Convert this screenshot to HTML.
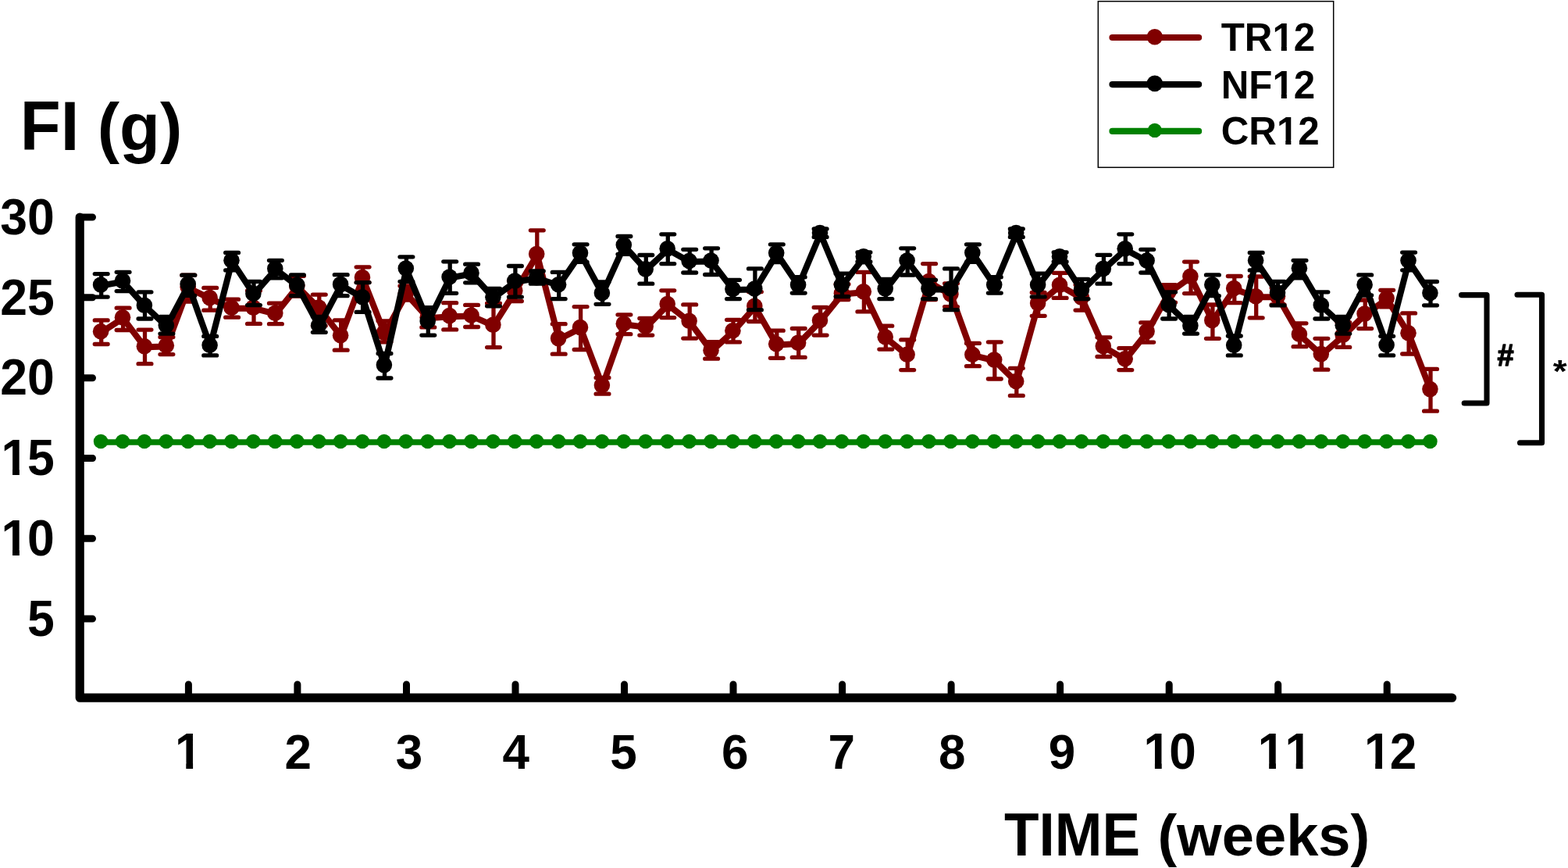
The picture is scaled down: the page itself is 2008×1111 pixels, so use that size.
<!DOCTYPE html>
<html lang="en"><head><meta charset="utf-8"><title>FI (g) over TIME (weeks)</title>
<style>html,body{margin:0;padding:0;background:#fff;}body{width:2008px;height:1111px;overflow:hidden;}svg{display:block;}text{font-family:"Liberation Sans", sans-serif;font-weight:bold;fill:#000;font-kerning:none;}</style></head><body>
<svg width="2008" height="1111" viewBox="0 0 2008 1111">
<defs><clipPath id="c1"><path d="M1553.84,-59.16H1694.11V-6.23H1553.84ZM1563.65,-6.73H1593.88V14.79H1563.65ZM1596.51,-6.73H1629.01V14.79H1596.51ZM1640.77,-6.73H1647.84V14.79H1640.77ZM1657.94,-6.73H1682.88V14.79H1657.94Z"/></clipPath><clipPath id="c2"><path d="M1553.84,-59.16H1694.11V-6.23H1553.84ZM1566.40,-6.73H1596.58V14.79H1566.40ZM1602.00,-6.73H1628.21V14.79H1602.00ZM1640.77,-6.73H1647.84V14.79H1640.77ZM1657.94,-6.73H1682.88V14.79H1657.94Z"/></clipPath><clipPath id="c3"><path d="M1553.84,-59.16H1699.60V-6.23H1553.84ZM1565.12,-6.73H1598.55V14.79H1565.12ZM1602.00,-6.73H1634.49V14.79H1602.00ZM1646.26,-6.73H1653.33V14.79H1646.26ZM1663.43,-6.73H1688.37V14.79H1663.43Z"/></clipPath><clipPath id="c4"><path d="M-10.92,-75.00H82.30V-7.58H-10.92ZM16.02,-8.08H24.89V18.75H16.02ZM36.36,-8.08H68.66V18.75H36.36Z"/></clipPath><clipPath id="c5"><path d="M-10.92,-75.00H82.30V-7.58H-10.92ZM16.02,-8.08H24.89V18.75H16.02ZM36.91,-8.08H67.84V18.75H36.91Z"/></clipPath><clipPath id="c6"><path d="M211.58,-74.40H270.86V-7.53H211.58ZM238.30,-8.03H247.10V18.60H238.30Z"/></clipPath><clipPath id="c7"><path d="M1452.18,-74.40H1544.19V-7.53H1452.18ZM1478.90,-8.03H1487.70V18.60H1478.90ZM1499.16,-8.03H1529.84V18.60H1499.16Z"/></clipPath><clipPath id="c8"><path d="M1598.43,-74.40H1692.26V-7.53H1598.43ZM1625.15,-8.03H1633.95V18.60H1625.15ZM1659.70,-8.03H1668.50V18.60H1659.70Z"/></clipPath><clipPath id="c9"><path d="M1734.48,-74.40H1826.76V-7.53H1734.48ZM1761.20,-8.03H1770.00V18.60H1761.20ZM1781.43,-8.03H1812.47V18.60H1781.43Z"/></clipPath></defs>
<rect width="2008" height="1111" fill="#fff"/>
<g id="ytitle"><text transform="translate(0,192.00) scale(1,1.045)" font-size="85" x="25.80 77.72" y="0">FI</text><text transform="translate(0,192.00) scale(1,1.0)" font-size="85" x="124.80 153.11 205.03" y="0">(g)</text></g>
<g id="legend">
<rect x="1406.3" y="1.7" width="301.4" height="212.6" fill="#fff" stroke="#000" stroke-width="1.5"/>
<line x1="1424.5" y1="48.0" x2="1535.1" y2="48.0" stroke="#800000" stroke-width="8.2" stroke-linecap="round"/>
<circle cx="1478.8" cy="47.2" r="10.3" fill="#800000"/>
<text transform="translate(0,65.20) scale(1,1.0)" font-size="49.3" x="1563.70 1593.81 1629.42 1656.84" y="0" clip-path="url(#c1)">TR12</text>
<line x1="1424.5" y1="108.1" x2="1535.1" y2="108.1" stroke="#000000" stroke-width="8.2" stroke-linecap="round"/>
<circle cx="1478.8" cy="106.9" r="10.3" fill="#000000"/>
<text transform="translate(0,125.70) scale(1,1.0)" font-size="49.3" x="1563.70 1599.30 1629.42 1656.84" y="0" clip-path="url(#c2)">NF12</text>
<line x1="1424.5" y1="167.95" x2="1535.1" y2="167.95" stroke="#008000" stroke-width="8.2" stroke-linecap="round"/>
<circle cx="1478.8" cy="166.9" r="9.2" fill="#008000"/>
<text transform="translate(0,185.30) scale(1,1.0)" font-size="49.3" x="1563.70 1599.30 1634.91 1662.32" y="0" clip-path="url(#c3)">CR12</text>
</g>
<g id="tr12"><g stroke="#800000" fill="none" stroke-linecap="round" stroke-linejoin="round">
<path d="M129.7,425.4 L157.6,407.3 L185.5,444.3 L213.4,443.4 L241.3,368.6 L269.2,382.2 L297.1,394.8 L325.0,394.7 L352.9,401.9 L380.9,367.0 L408.8,394.7 L436.7,430.3 L464.6,356.1 L492.5,426.9 L520.4,376.3 L548.3,407.3 L576.2,405.2 L604.1,404.6 L632.0,416.9 L659.9,373.1 L687.8,326.1 L715.7,434.2 L743.6,420.1 L771.5,494.2 L799.4,415.3 L827.3,418.9 L855.3,390.1 L883.2,411.8 L911.1,449.5 L939.0,424.3 L966.9,392.9 L994.8,441.4 L1022.7,439.9 L1050.6,411.1 L1078.5,376.6 L1106.4,374.3 L1134.3,432.4 L1162.2,454.9 L1190.1,361.2 L1218.0,377.6 L1245.9,454.9 L1273.8,461.6 L1301.8,489.1 L1329.7,389.1 L1357.6,365.8 L1385.5,381.9 L1413.4,444.1 L1441.3,460.3 L1469.2,425.2 L1497.1,374.7 L1525.0,354.8 L1552.9,411.0 L1580.8,370.1 L1608.7,380.3 L1636.6,380.3 L1664.5,428.9 L1692.4,454.2 L1720.3,429.9 L1748.2,402.7 L1776.2,382.8 L1804.1,427.4 L1832.0,499.2" stroke-width="8.0"/>
<path d="M129.7,409.9V440.5M121.3,409.9h16.8M121.3,440.5h16.8M157.6,394.2V422.5M149.2,394.2h16.8M149.2,422.5h16.8M185.5,422.1V465.7M177.1,422.1h16.8M177.1,465.7h16.8M213.4,431.5V453.6M205.0,431.5h16.8M205.0,453.6h16.8M241.3,352.2V386M232.9,352.2h16.8M232.9,386h16.8M269.2,368.4V397.2M260.8,368.4h16.8M260.8,397.2h16.8M297.1,383.2V406.2M288.7,383.2h16.8M288.7,406.2h16.8M325.0,372.0V414.4M316.6,372.0h16.8M316.6,414.4h16.8M352.9,388.2V414.7M344.5,388.2h16.8M344.5,414.7h16.8M380.9,353.3V379.2M372.5,353.3h16.8M372.5,379.2h16.8M408.8,377.1V417.1M400.4,377.1h16.8M400.4,417.1h16.8M436.7,409.9V448.2M428.3,409.9h16.8M428.3,448.2h16.8M464.6,341.8V361.6M456.2,341.8h16.8M456.2,361.6h16.8M492.5,410.8V437.8M484.1,410.8h16.8M484.1,437.8h16.8M520.4,366V384M512.0,366h16.8M512.0,384h16.8M548.3,393.6V418.9M539.9,393.6h16.8M539.9,418.9h16.8M576.2,387.7V421.9M567.8,387.7h16.8M567.8,421.9h16.8M604.1,390.4V418.5M595.7,390.4h16.8M595.7,418.5h16.8M632.0,388.2V444.6M623.6,388.2h16.8M623.6,444.6h16.8M659.9,359.4V385.5M651.5,359.4h16.8M651.5,385.5h16.8M687.8,294.8V355.6M679.4,294.8h16.8M679.4,355.6h16.8M715.7,414.7V453.2M707.3,414.7h16.8M707.3,453.2h16.8M743.6,392.6V447.5M735.2,392.6h16.8M735.2,447.5h16.8M771.5,483.5V504.2M763.1,483.5h16.8M763.1,504.2h16.8M799.4,402.8V427.7M791.0,402.8h16.8M791.0,427.7h16.8M827.3,407.5V429.1M818.9,407.5h16.8M818.9,429.1h16.8M855.3,371.8V406.6M846.9,371.8h16.8M846.9,406.6h16.8M883.2,389.9V433.1M874.8,389.9h16.8M874.8,433.1h16.8M911.1,437.6V459.2M902.7,437.6h16.8M902.7,459.2h16.8M939.0,409.3V437.9M930.6,409.3h16.8M930.6,437.9h16.8M966.9,373.6V411.5M958.5,373.6h16.8M958.5,411.5h16.8M994.8,423.2V458.3M986.4,423.2h16.8M986.4,458.3h16.8M1022.7,420.5V457.4M1014.3,420.5h16.8M1014.3,457.4h16.8M1050.6,393.5V429.1M1042.2,393.5h16.8M1042.2,429.1h16.8M1078.5,363.7V383.5M1070.1,363.7h16.8M1070.1,383.5h16.8M1106.4,348.4V398.9M1098.0,348.4h16.8M1098.0,398.9h16.8M1134.3,417.2V447.1M1125.9,417.2h16.8M1125.9,447.1h16.8M1162.2,434.9V473.6M1153.8,434.9h16.8M1153.8,473.6h16.8M1190.1,337.6V383.5M1181.7,337.6h16.8M1181.7,383.5h16.8M1218.0,362.8V392.6M1209.6,362.8h16.8M1209.6,392.6h16.8M1245.9,439.4V468.7M1237.5,439.4h16.8M1237.5,468.7h16.8M1273.8,437.8V485M1265.4,437.8h16.8M1265.4,485h16.8M1301.8,471.3V506.4M1293.4,471.3h16.8M1293.4,506.4h16.8M1329.7,374.5V404.3M1321.3,374.5h16.8M1321.3,404.3h16.8M1357.6,349.3V381.4M1349.2,349.3h16.8M1349.2,381.4h16.8M1385.5,364.6V397.1M1377.1,364.6h16.8M1377.1,397.1h16.8M1413.4,431.8V456.5M1405.0,431.8h16.8M1405.0,456.5h16.8M1441.3,445.7V473.6M1432.9,445.7h16.8M1432.9,473.6h16.8M1469.2,412.9V438.1M1460.8,412.9h16.8M1460.8,438.1h16.8M1497.1,364.6V387.1M1488.7,364.6h16.8M1488.7,387.1h16.8M1525.0,335.1V375.6M1516.6,335.1h16.8M1516.6,375.6h16.8M1552.9,390.0V433.3M1544.5,390.0h16.8M1544.5,433.3h16.8M1580.8,353.5V387.7M1572.4,353.5h16.8M1572.4,387.7h16.8M1608.7,354.0V406.8M1600.3,354.0h16.8M1600.3,406.8h16.8M1636.6,368.4V390.0M1628.2,368.4h16.8M1628.2,390.0h16.8M1664.5,413.8V443.7M1656.1,413.8h16.8M1656.1,443.7h16.8M1692.4,433.3V473.2M1684.0,433.3h16.8M1684.0,473.2h16.8M1720.3,412.6V444.4M1711.9,412.6h16.8M1711.9,444.4h16.8M1748.2,384V420.6M1739.8,384h16.8M1739.8,420.6h16.8M1776.2,371.3V392.9M1767.8,371.3h16.8M1767.8,392.9h16.8M1804.1,400.9V453M1795.7,400.9h16.8M1795.7,453h16.8M1832.0,472.4V526.2M1823.6,472.4h16.8M1823.6,526.2h16.8" stroke-width="5.3"/>
</g>
<g fill="#800000"><circle cx="129.1" cy="424.3" r="10.3"/><circle cx="157.0" cy="406.2" r="10.3"/><circle cx="184.9" cy="443.2" r="10.3"/><circle cx="212.8" cy="442.3" r="10.3"/><circle cx="240.7" cy="367.5" r="10.3"/><circle cx="268.6" cy="381.1" r="10.3"/><circle cx="296.5" cy="393.7" r="10.3"/><circle cx="324.4" cy="393.6" r="10.3"/><circle cx="352.3" cy="400.8" r="10.3"/><circle cx="380.3" cy="365.9" r="10.3"/><circle cx="408.2" cy="393.6" r="10.3"/><circle cx="436.1" cy="429.2" r="10.3"/><circle cx="464.0" cy="355.0" r="10.3"/><circle cx="491.9" cy="425.8" r="10.3"/><circle cx="519.8" cy="375.2" r="10.3"/><circle cx="547.7" cy="406.2" r="10.3"/><circle cx="575.6" cy="404.1" r="10.3"/><circle cx="603.5" cy="403.5" r="10.3"/><circle cx="631.4" cy="415.8" r="10.3"/><circle cx="659.3" cy="372.0" r="10.3"/><circle cx="687.2" cy="325.0" r="10.3"/><circle cx="715.1" cy="433.1" r="10.3"/><circle cx="743.0" cy="419.0" r="10.3"/><circle cx="770.9" cy="493.1" r="10.3"/><circle cx="798.8" cy="414.2" r="10.3"/><circle cx="826.7" cy="417.8" r="10.3"/><circle cx="854.7" cy="389.0" r="10.3"/><circle cx="882.6" cy="410.7" r="10.3"/><circle cx="910.5" cy="448.4" r="10.3"/><circle cx="938.4" cy="423.2" r="10.3"/><circle cx="966.3" cy="391.8" r="10.3"/><circle cx="994.2" cy="440.3" r="10.3"/><circle cx="1022.1" cy="438.8" r="10.3"/><circle cx="1050.0" cy="410.0" r="10.3"/><circle cx="1077.9" cy="375.5" r="10.3"/><circle cx="1105.8" cy="373.2" r="10.3"/><circle cx="1133.7" cy="431.3" r="10.3"/><circle cx="1161.6" cy="453.8" r="10.3"/><circle cx="1189.5" cy="360.1" r="10.3"/><circle cx="1217.4" cy="376.5" r="10.3"/><circle cx="1245.3" cy="453.8" r="10.3"/><circle cx="1273.2" cy="460.5" r="10.3"/><circle cx="1301.2" cy="488" r="10.3"/><circle cx="1329.1" cy="388.0" r="10.3"/><circle cx="1357.0" cy="364.7" r="10.3"/><circle cx="1384.9" cy="380.8" r="10.3"/><circle cx="1412.8" cy="443.0" r="10.3"/><circle cx="1440.7" cy="459.2" r="10.3"/><circle cx="1468.6" cy="424.1" r="10.3"/><circle cx="1496.5" cy="373.6" r="10.3"/><circle cx="1524.4" cy="353.7" r="10.3"/><circle cx="1552.3" cy="409.9" r="10.3"/><circle cx="1580.2" cy="369.0" r="10.3"/><circle cx="1608.1" cy="379.2" r="10.3"/><circle cx="1636.0" cy="379.2" r="10.3"/><circle cx="1663.9" cy="427.8" r="10.3"/><circle cx="1691.8" cy="453.1" r="10.3"/><circle cx="1719.7" cy="428.8" r="10.3"/><circle cx="1747.6" cy="401.6" r="10.3"/><circle cx="1775.6" cy="381.7" r="10.3"/><circle cx="1803.5" cy="426.3" r="10.3"/><circle cx="1831.4" cy="498.1" r="10.3"/></g></g>
<g id="nf12"><g stroke="#000000" fill="none" stroke-linecap="round" stroke-linejoin="round">
<path d="M129.7,365.6 L157.6,360.5 L185.5,391.8 L213.4,417.6 L241.3,365.2 L269.2,442.8 L297.1,334.4 L325.0,376.8 L352.9,344.8 L380.9,366.0 L408.8,417.7 L436.7,365.0 L464.6,381.3 L492.5,468.2 L520.4,344.6 L548.3,412.0 L576.2,355.6 L604.1,350.5 L632.0,381.3 L659.9,360.7 L687.8,356.2 L715.7,365.3 L743.6,324.8 L771.5,376.1 L799.4,314.6 L827.3,345.5 L855.3,319.4 L883.2,335.1 L911.1,334.6 L939.0,371.1 L966.9,370.6 L994.8,324.8 L1022.7,365.7 L1050.6,299.1 L1078.5,365.7 L1106.4,329.4 L1134.3,370.6 L1162.2,334.6 L1190.1,370.6 L1218.0,370.6 L1245.9,324.7 L1273.8,365.7 L1301.8,299.1 L1329.7,365.7 L1357.6,329.4 L1385.5,372.1 L1413.4,345.0 L1441.3,319.4 L1469.2,334.6 L1497.1,391.1 L1525.0,417.9 L1552.9,365.5 L1580.8,442.8 L1608.7,334.4 L1636.6,375.8 L1664.5,344.3 L1692.4,391.6 L1720.3,417.4 L1748.2,365.5 L1776.2,442.6 L1804.1,334.6 L1832.0,376.1" stroke-width="8.0"/>
<path d="M129.7,350.6V380.1M121.3,350.6h16.8M121.3,380.1h16.8M157.6,348.3V372.6M149.2,348.3h16.8M149.2,372.6h16.8M185.5,373.8V408.0M177.1,373.8h16.8M177.1,408.0h16.8M213.4,405.3V427.1M205.0,405.3h16.8M205.0,427.1h16.8M241.3,352.2V378.4M232.9,352.2h16.8M232.9,378.4h16.8M269.2,430.4V454.9M260.8,430.4h16.8M260.8,454.9h16.8M297.1,323.4V345.9M288.7,323.4h16.8M288.7,345.9h16.8M325.0,360.3V390.6M316.6,360.3h16.8M316.6,390.6h16.8M352.9,333.3V355.8M344.5,333.3h16.8M344.5,355.8h16.8M380.9,351.9V378.7M372.5,351.9h16.8M372.5,378.7h16.8M408.8,405.3V425.3M400.4,405.3h16.8M400.4,425.3h16.8M436.7,351.7V378.7M428.3,351.7h16.8M428.3,378.7h16.8M464.6,361.6V399.4M456.2,361.6h16.8M456.2,399.4h16.8M492.5,452.5V484.0M484.1,452.5h16.8M484.1,484.0h16.8M520.4,328.8V360.3M512.0,328.8h16.8M512.0,360.3h16.8M548.3,393.6V429.1M539.9,393.6h16.8M539.9,429.1h16.8M576.2,334.8V375.3M567.8,334.8h16.8M567.8,375.3h16.8M604.1,338.2V361.8M595.7,338.2h16.8M595.7,361.8h16.8M632.0,369.3V391.8M623.6,369.3h16.8M623.6,391.8h16.8M659.9,340.5V380.1M651.5,340.5h16.8M651.5,380.1h16.8M687.8,347.0V363.2M679.4,347.0h16.8M679.4,363.2h16.8M715.7,348.4V382.6M707.3,348.4h16.8M707.3,382.6h16.8M743.6,312.8V335.4M735.2,312.8h16.8M735.2,335.4h16.8M771.5,361.0V389.3M763.1,361.0h16.8M763.1,389.3h16.8M799.4,302.5V325.3M791.0,302.5h16.8M791.0,325.3h16.8M827.3,326.5V363.2M818.9,326.5h16.8M818.9,363.2h16.8M855.3,299.8V337.6M846.9,299.8h16.8M846.9,337.6h16.8M883.2,319.3V349.0M874.8,319.3h16.8M874.8,349.0h16.8M911.1,317.8V351.5M902.7,317.8h16.8M902.7,351.5h16.8M939.0,358.3V382.6M930.6,358.3h16.8M930.6,382.6h16.8M966.9,343.9V396.7M958.5,343.9h16.8M958.5,396.7h16.8M994.8,312.8V335.5M986.4,312.8h16.8M986.4,335.5h16.8M1022.7,354.7V375.1M1014.3,354.7h16.8M1014.3,375.1h16.8M1050.6,293.0V303.4M1042.2,293.0h16.8M1042.2,303.4h16.8M1078.5,350.2V379.6M1070.1,350.2h16.8M1070.1,379.6h16.8M1106.4,322.9V334.9M1098.0,322.9h16.8M1098.0,334.9h16.8M1134.3,357.4V382.6M1125.9,357.4h16.8M1125.9,382.6h16.8M1162.2,317.8V352.0M1153.8,317.8h16.8M1153.8,352.0h16.8M1190.1,358.3V382.6M1181.7,358.3h16.8M1181.7,382.6h16.8M1218.0,343.9V396.7M1209.6,343.9h16.8M1209.6,396.7h16.8M1245.9,312.8V335.4M1237.5,312.8h16.8M1237.5,335.4h16.8M1273.8,354.7V375.1M1265.4,354.7h16.8M1265.4,375.1h16.8M1301.8,293.0V303.4M1293.4,293.0h16.8M1293.4,303.4h16.8M1329.7,350.2V379.9M1321.3,350.2h16.8M1321.3,379.9h16.8M1357.6,322.9V334.9M1349.2,322.9h16.8M1349.2,334.9h16.8M1385.5,357.4V382.6M1377.1,357.4h16.8M1377.1,382.6h16.8M1413.4,326.3V363.2M1405.0,326.3h16.8M1405.0,363.2h16.8M1441.3,299.8V337.6M1432.9,299.8h16.8M1432.9,337.6h16.8M1469.2,319.3V349.0M1460.8,319.3h16.8M1460.8,349.0h16.8M1497.1,373.8V408.0M1488.7,373.8h16.8M1488.7,408.0h16.8M1525.0,405.3V427.1M1516.6,405.3h16.8M1516.6,427.1h16.8M1552.9,351.9V378.7M1544.5,351.9h16.8M1544.5,378.7h16.8M1580.8,430.0V454.9M1572.4,430.0h16.8M1572.4,454.9h16.8M1608.7,323.4V345.9M1600.3,323.4h16.8M1600.3,345.9h16.8M1636.6,360.3V390.9M1628.2,360.3h16.8M1628.2,390.9h16.8M1664.5,333.3V355.8M1656.1,333.3h16.8M1656.1,355.8h16.8M1692.4,373.8V408.0M1684.0,373.8h16.8M1684.0,408.0h16.8M1720.3,405.3V427.1M1711.9,405.3h16.8M1711.9,427.1h16.8M1748.2,351.9V378M1739.8,351.9h16.8M1739.8,378h16.8M1776.2,430.3V454.9M1767.8,430.3h16.8M1767.8,454.9h16.8M1804.1,323.1V345.8M1795.7,323.1h16.8M1795.7,345.8h16.8M1832.0,360.5V390.8M1823.6,360.5h16.8M1823.6,390.8h16.8" stroke-width="5.3"/>
</g>
<g fill="#000000"><circle cx="129.1" cy="364.5" r="10.3"/><circle cx="157.0" cy="359.4" r="10.3"/><circle cx="184.9" cy="390.7" r="10.3"/><circle cx="212.8" cy="416.5" r="10.3"/><circle cx="240.7" cy="363.6" r="10.3"/><circle cx="268.6" cy="441.7" r="10.3"/><circle cx="296.5" cy="333.3" r="10.3"/><circle cx="324.4" cy="375.7" r="10.3"/><circle cx="352.3" cy="343.7" r="10.3"/><circle cx="380.3" cy="364.9" r="10.3"/><circle cx="408.2" cy="416.6" r="10.3"/><circle cx="436.1" cy="363.9" r="10.3"/><circle cx="464.0" cy="380.2" r="10.3"/><circle cx="491.9" cy="467.1" r="10.3"/><circle cx="519.8" cy="343.5" r="10.3"/><circle cx="547.7" cy="410.9" r="10.3"/><circle cx="575.6" cy="354.5" r="10.3"/><circle cx="603.5" cy="349.4" r="10.3"/><circle cx="631.4" cy="380.2" r="10.3"/><circle cx="659.3" cy="359.6" r="10.3"/><circle cx="687.2" cy="355.1" r="10.3"/><circle cx="715.1" cy="364.2" r="10.3"/><circle cx="743.0" cy="323.7" r="10.3"/><circle cx="770.9" cy="375.0" r="10.3"/><circle cx="798.8" cy="313.5" r="10.3"/><circle cx="826.7" cy="344.4" r="10.3"/><circle cx="854.7" cy="318.3" r="10.3"/><circle cx="882.6" cy="334.0" r="10.3"/><circle cx="910.5" cy="333.5" r="10.3"/><circle cx="938.4" cy="370.0" r="10.3"/><circle cx="966.3" cy="369.5" r="10.3"/><circle cx="994.2" cy="323.7" r="10.3"/><circle cx="1022.1" cy="364.6" r="10.3"/><circle cx="1050.0" cy="298.0" r="10.3"/><circle cx="1077.9" cy="364.6" r="10.3"/><circle cx="1105.8" cy="328.3" r="10.3"/><circle cx="1133.7" cy="369.5" r="10.3"/><circle cx="1161.6" cy="333.5" r="10.3"/><circle cx="1189.5" cy="369.5" r="10.3"/><circle cx="1217.4" cy="369.5" r="10.3"/><circle cx="1245.3" cy="323.6" r="10.3"/><circle cx="1273.2" cy="364.6" r="10.3"/><circle cx="1301.2" cy="298.0" r="10.3"/><circle cx="1329.1" cy="364.6" r="10.3"/><circle cx="1357.0" cy="328.3" r="10.3"/><circle cx="1384.9" cy="371.0" r="10.3"/><circle cx="1412.8" cy="343.9" r="10.3"/><circle cx="1440.7" cy="318.3" r="10.3"/><circle cx="1468.6" cy="333.5" r="10.3"/><circle cx="1496.5" cy="390.0" r="10.3"/><circle cx="1524.4" cy="416.8" r="10.3"/><circle cx="1552.3" cy="364.4" r="10.3"/><circle cx="1580.2" cy="441.7" r="10.3"/><circle cx="1608.1" cy="333.3" r="10.3"/><circle cx="1636.0" cy="374.7" r="10.3"/><circle cx="1663.9" cy="343.2" r="10.3"/><circle cx="1691.8" cy="390.5" r="10.3"/><circle cx="1719.7" cy="416.3" r="10.3"/><circle cx="1747.6" cy="364.4" r="10.3"/><circle cx="1775.6" cy="441.5" r="10.3"/><circle cx="1803.5" cy="333.5" r="10.3"/><circle cx="1831.4" cy="375" r="10.3"/></g></g>
<g id="cr12"><g stroke="#008000" fill="none" stroke-linecap="round" stroke-linejoin="round">
<path d="M129.7,566.1 L157.6,566.1 L185.5,566.1 L213.4,566.1 L241.3,566.1 L269.2,566.1 L297.1,566.1 L325.0,566.1 L352.9,566.1 L380.9,566.1 L408.8,566.1 L436.7,566.1 L464.6,566.1 L492.5,566.1 L520.4,566.1 L548.3,566.1 L576.2,566.1 L604.1,566.1 L632.0,566.1 L659.9,566.1 L687.8,566.1 L715.7,566.1 L743.6,566.1 L771.5,566.1 L799.4,566.1 L827.3,566.1 L855.3,566.1 L883.2,566.1 L911.1,566.1 L939.0,566.1 L966.9,566.1 L994.8,566.1 L1022.7,566.1 L1050.6,566.1 L1078.5,566.1 L1106.4,566.1 L1134.3,566.1 L1162.2,566.1 L1190.1,566.1 L1218.0,566.1 L1245.9,566.1 L1273.8,566.1 L1301.8,566.1 L1329.7,566.1 L1357.6,566.1 L1385.5,566.1 L1413.4,566.1 L1441.3,566.1 L1469.2,566.1 L1497.1,566.1 L1525.0,566.1 L1552.9,566.1 L1580.8,566.1 L1608.7,566.1 L1636.6,566.1 L1664.5,566.1 L1692.4,566.1 L1720.3,566.1 L1748.2,566.1 L1776.2,566.1 L1804.1,566.1 L1832.0,566.1" stroke-width="7.5"/>
</g>
<g fill="#008000"><circle cx="129.1" cy="565" r="9.3"/><circle cx="157.0" cy="565" r="9.3"/><circle cx="184.9" cy="565" r="9.3"/><circle cx="212.8" cy="565" r="9.3"/><circle cx="240.7" cy="565" r="9.3"/><circle cx="268.6" cy="565" r="9.3"/><circle cx="296.5" cy="565" r="9.3"/><circle cx="324.4" cy="565" r="9.3"/><circle cx="352.3" cy="565" r="9.3"/><circle cx="380.3" cy="565" r="9.3"/><circle cx="408.2" cy="565" r="9.3"/><circle cx="436.1" cy="565" r="9.3"/><circle cx="464.0" cy="565" r="9.3"/><circle cx="491.9" cy="565" r="9.3"/><circle cx="519.8" cy="565" r="9.3"/><circle cx="547.7" cy="565" r="9.3"/><circle cx="575.6" cy="565" r="9.3"/><circle cx="603.5" cy="565" r="9.3"/><circle cx="631.4" cy="565" r="9.3"/><circle cx="659.3" cy="565" r="9.3"/><circle cx="687.2" cy="565" r="9.3"/><circle cx="715.1" cy="565" r="9.3"/><circle cx="743.0" cy="565" r="9.3"/><circle cx="770.9" cy="565" r="9.3"/><circle cx="798.8" cy="565" r="9.3"/><circle cx="826.7" cy="565" r="9.3"/><circle cx="854.7" cy="565" r="9.3"/><circle cx="882.6" cy="565" r="9.3"/><circle cx="910.5" cy="565" r="9.3"/><circle cx="938.4" cy="565" r="9.3"/><circle cx="966.3" cy="565" r="9.3"/><circle cx="994.2" cy="565" r="9.3"/><circle cx="1022.1" cy="565" r="9.3"/><circle cx="1050.0" cy="565" r="9.3"/><circle cx="1077.9" cy="565" r="9.3"/><circle cx="1105.8" cy="565" r="9.3"/><circle cx="1133.7" cy="565" r="9.3"/><circle cx="1161.6" cy="565" r="9.3"/><circle cx="1189.5" cy="565" r="9.3"/><circle cx="1217.4" cy="565" r="9.3"/><circle cx="1245.3" cy="565" r="9.3"/><circle cx="1273.2" cy="565" r="9.3"/><circle cx="1301.2" cy="565" r="9.3"/><circle cx="1329.1" cy="565" r="9.3"/><circle cx="1357.0" cy="565" r="9.3"/><circle cx="1384.9" cy="565" r="9.3"/><circle cx="1412.8" cy="565" r="9.3"/><circle cx="1440.7" cy="565" r="9.3"/><circle cx="1468.6" cy="565" r="9.3"/><circle cx="1496.5" cy="565" r="9.3"/><circle cx="1524.4" cy="565" r="9.3"/><circle cx="1552.3" cy="565" r="9.3"/><circle cx="1580.2" cy="565" r="9.3"/><circle cx="1608.1" cy="565" r="9.3"/><circle cx="1636.0" cy="565" r="9.3"/><circle cx="1663.9" cy="565" r="9.3"/><circle cx="1691.8" cy="565" r="9.3"/><circle cx="1719.7" cy="565" r="9.3"/><circle cx="1747.6" cy="565" r="9.3"/><circle cx="1775.6" cy="565" r="9.3"/><circle cx="1803.5" cy="565" r="9.3"/><circle cx="1831.4" cy="565" r="9.3"/></g></g>
<g id="axes" stroke="#000" fill="none" stroke-linecap="round" stroke-linejoin="round">
<path d="M102.2,278 V893.2 H1859.6" stroke-width="11.2"/>
<path d="M102,278H118.5M102,380.8H118.5M102,483.7H118.5M102,586.5H118.5M102,689.3H118.5M102,792.1H118.5M241.4,893V876M380.9,893V876M520.5,893V876M660.0,893V876M799.5,893V876M939.0,893V876M1078.6,893V876M1218.1,893V876M1357.6,893V876M1497.2,893V876M1636.7,893V876M1776.2,893V876" stroke-width="9"/>
</g>
<g id="ylabels">
<text transform="translate(0,299.75) scale(1,1.03)" font-size="62.5" x="0.28 35.04" y="0">30</text>
<text transform="translate(0,402.55) scale(1,1.03)" font-size="62.5" x="0.28 35.04" y="0">25</text>
<text transform="translate(0,505.45) scale(1,1.03)" font-size="62.5" x="0.28 35.04" y="0">20</text>
<text transform="translate(0,608.25) scale(1,1.03)" font-size="62.5" x="1.58 35.04" y="0" clip-path="url(#c4)">15</text>
<text transform="translate(0,711.05) scale(1,1.03)" font-size="62.5" x="1.58 35.04" y="0" clip-path="url(#c5)">10</text>
<text transform="translate(0,813.85) scale(1,1.03)" font-size="62.5" x="35.04" y="0">5</text>
</g>
<g id="xlabels">
<text transform="translate(0,984.40) scale(1,1.04)" font-size="62" x="223.98" y="0" clip-path="url(#c6)">1</text>
<text transform="translate(0,984.40) scale(1,1.02)" font-size="62" x="364.43" y="0">2</text>
<text transform="translate(0,984.40) scale(1,1.02)" font-size="62" x="506.67" y="0">3</text>
<text transform="translate(0,984.40) scale(1,1.02)" font-size="62" x="643.46" y="0">4</text>
<text transform="translate(0,984.40) scale(1,1.02)" font-size="62" x="781.37" y="0">5</text>
<text transform="translate(0,984.40) scale(1,1.02)" font-size="62" x="923.94" y="0">6</text>
<text transform="translate(0,984.40) scale(1,1.02)" font-size="62" x="1060.39" y="0">7</text>
<text transform="translate(0,984.40) scale(1,1.02)" font-size="62" x="1202.03" y="0">8</text>
<text transform="translate(0,984.40) scale(1,1.02)" font-size="62" x="1342.83" y="0">9</text>
<text transform="translate(0,984.40) scale(1,1.04)" font-size="62" x="1464.58 1497.30" y="0" clip-path="url(#c7)">10</text>
<text transform="translate(0,984.40) scale(1,1.04)" font-size="62" x="1610.83 1645.38" y="0" clip-path="url(#c8)">11</text>
<text transform="translate(0,984.40) scale(1,1.04)" font-size="62" x="1746.88 1779.88" y="0" clip-path="url(#c9)">12</text>
</g>
<g id="brackets" stroke="#000" fill="none" stroke-width="7.1" stroke-linecap="round" stroke-linejoin="round">
<path d="M1871.5,377.6 H1904 V516 H1875.2"/>
<path d="M1943,377.2 H1974.5 V566.7 H1946.5"/>
</g>
<text transform="translate(0,467.60) scale(1,1.0)" font-size="38" x="1917.60" y="0" stroke="#000" stroke-width="1.3" stroke-linejoin="round">#</text>
<text transform="translate(0,488.50) scale(1,0.87)" font-size="46" x="1988.70" y="0">*</text>
<g id="xtitle"><text transform="translate(0,1095.00) scale(1,1.069)" font-size="72.9" x="1286.00 1330.53 1350.78 1411.51" y="0">TIME</text><text transform="translate(0,1095.00) scale(1,0.99)" font-size="74.1" x="1482.40 1507.08 1564.71 1605.92 1647.14 1688.35 1729.56" y="0">(weeks)</text></g>
</svg></body></html>
